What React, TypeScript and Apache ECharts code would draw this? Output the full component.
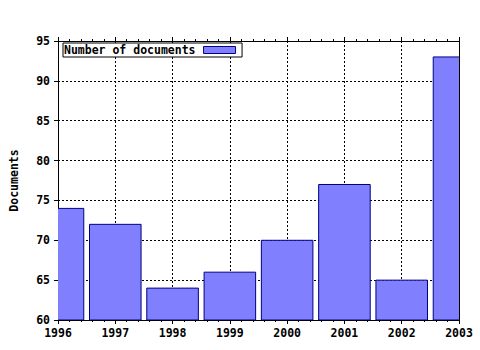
import React, { useEffect, useRef } from "react";
import * as echarts from "echarts";

const years = [1996, 1997, 1998, 1999, 2000, 2001, 2002, 2003];
const documents = [74, 72, 64, 66, 70, 77, 65, 93];
const seriesName = "Number of documents";

const FONT = "DejaVu Sans Mono";

export default function App() {
  const ref = useRef<HTMLDivElement>(null);
  useEffect(() => {
    const chart = echarts.init(ref.current!, null, { renderer: "svg" });
    const data = years.map((y, i) => [y, documents[i]]);
    const dotted = { show: true, lineStyle: { color: "#000", type: [2, 2] as any, width: 1 } };
    chart.setOption({
      animation: false,
      backgroundColor: "#fff",
      textStyle: { fontFamily: FONT },
      grid: { left: 57.5, right: 21, top: 41, bottom: 30, containLabel: false },
      legend: {
        left: 63,
        top: 43,
        align: "right",
        itemWidth: 32,
        itemHeight: 7,
        itemGap: 0,
        borderColor: "#000",
        borderWidth: 1,
        backgroundColor: "#fff",
        padding: [1, 6, 1, 1],
        borderRadius: 0,
        textStyle: { fontFamily: FONT, fontWeight: "bold", fontSize: 11.5, color: "#000", padding: [0, 3, 0, 0] },
        data: [{ name: seriesName, icon: "rect", itemStyle: { color: "#8080ff", borderColor: "#000080", borderWidth: 1 } }],
      },
      xAxis: [
        {
          type: "value",
          min: 1996,
          max: 2003,
          interval: 1,
          axisLine: { show: true, onZero: false, lineStyle: { color: "#000", width: 1 } },
          axisTick: { show: true, length: 4, lineStyle: { color: "#000" } },
          minorTick: { show: true, splitNumber: 5, length: 2, lineStyle: { color: "#000" } },
          axisLabel: { fontFamily: FONT, fontWeight: "bold", fontSize: 11.5, color: "#000", margin: 7, formatter: (v: number) => String(v) },
          splitLine: dotted,
        },
        {
          type: "value",
          position: "top",
          min: 1996,
          max: 2003,
          interval: 1,
          axisLine: { show: true, onZero: false, lineStyle: { color: "#000", width: 1 } },
          axisTick: { show: true, length: 4, lineStyle: { color: "#000" } },
          minorTick: { show: true, splitNumber: 5, length: 2, lineStyle: { color: "#000" } },
          axisLabel: { show: false },
          splitLine: { show: false },
        },
      ],
      yAxis: [
        {
          type: "value",
          min: 60,
          max: 95,
          interval: 5,
          name: "Documents",
          nameLocation: "middle",
          nameGap: 38,
          nameTextStyle: { fontFamily: FONT, fontWeight: "bold", fontSize: 11.5, color: "#000" },
          axisLine: { show: true, onZero: false, lineStyle: { color: "#000", width: 1 } },
          axisTick: { show: true, length: 4, lineStyle: { color: "#000" } },
          axisLabel: { fontFamily: FONT, fontWeight: "bold", fontSize: 11.5, color: "#000", margin: 8 },
          splitLine: dotted,
        },
        {
          type: "value",
          position: "right",
          min: 60,
          max: 95,
          interval: 5,
          axisLine: { show: true, onZero: false, lineStyle: { color: "#000", width: 1 } },
          axisTick: { show: false },
          axisLabel: { show: false },
          splitLine: { show: false },
        },
      ],
      series: [
        {
          type: "custom",
          name: seriesName,
          clip: true,
          xAxisIndex: 0,
          yAxisIndex: 0,
          data,
          itemStyle: { color: "#8080ff", borderColor: "#000080" },
          renderItem: (params: any, api: any) => {
            const x = api.value(0);
            const y = api.value(1);
            const p0 = api.coord([x - 0.45, y]);
            const p1 = api.coord([x + 0.45, 60]);
            return {
              type: "rect",
              shape: { x: p0[0], y: p0[1], width: p1[0] - p0[0], height: p1[1] - p0[1] },
              style: { fill: "#8080ff", stroke: "#000080", lineWidth: 1 },
            };
          },
        },
      ],
    });
    return () => chart.dispose();
  }, []);
  return <div ref={ref} style={{ width: 480, height: 350, position: "absolute", left: 0, top: 0 }} />;
}
